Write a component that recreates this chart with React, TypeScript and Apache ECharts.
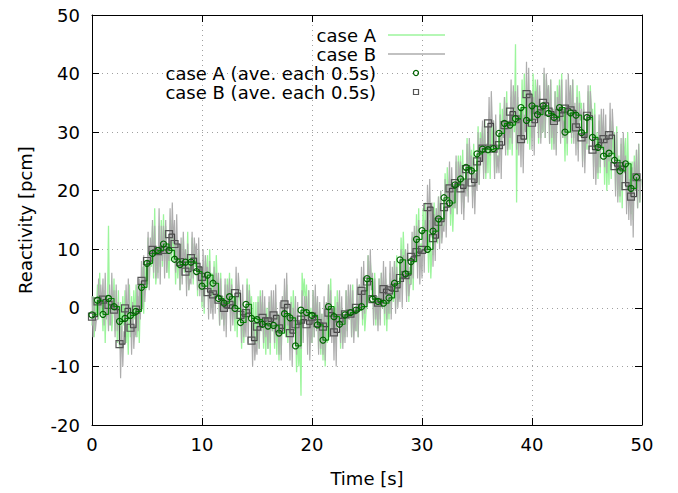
import React, { useEffect, useRef } from "react";
import * as echarts from "echarts";

const TIME_STEP_RAW = 0.1;
const TIME_STEP_AVE = 0.5;

const caseA = [
  -3, 2, -5, 1, -1, 4, -2, 6, -1, 0, -4, 3, -6, 2, -1, 14, -3, 2, -4, -1, 5, -4, 3, -6, 3,
  -7, 1, -5, 2, -3, 3, -6, -2, -8, 4, -5, 2, -4, 3, -2, 4, -5, 2, -6, 2, 1, 7, -1, 8, 3,
  5, 12, 4, 10, 7, 14, 5, 17, 4, 7, 6, 14, 7, 15, 7, 16, 8, 14, 6, 11, 5, 13, 8, 15, 8,
  12, 4, 11, 5, 10, 3, 11, 5, 12, 6, 10, 4, 13, 3, 9, 5, 12, 4, 11, 7, 9, 2, 10, 3, 7,
  0, 7, -1, 8, 4, 9, 1, 10, 2, 6, 0, 8, 1, 9, 3, 5, -3, 6, -2, 2, -3, 4, -2, 5, 0,
  6, -2, 5, -1, 2, -4, 3, -5, 4, 2, 1, -7, 0, -6, -1, -3, 5, -2, 4, -1, 2, -6, 1, -7, 1,
  -6, 2, -7, 3, -2, 1, -7, 0, -8, 0, -7, 1, -8, 2, -4, 0, -7, 1, -8, -1, -9, -1, -8, 0, -4,
  3, -5, 4, -6, -1, -6, 2, -5, 3, -2, -3, -11, -4, -10, -5, -15, 6, 2, 5, 0, 4, -5, 3, -6, 0,
  -6, 3, -5, 2, -1, 1, -7, 0, -8, -1, -9, -2, -10, -1, -6, 4, -4, 5, -3, -1, -5, 2, -6, 3, -2,
  1, -7, 0, -6, -2, -5, 3, -4, 2, -2, 3, -5, 4, -4, -2, -4, 3, -5, 4, 0, 4, -3, 5, -4, -1,
  2, 9, 1, 8, 5, 5, -2, 6, -3, 2, -3, 5, -2, 6, 0, 4, -3, 5, -4, 2, -2, 6, -1, 5, 1,
  8, 0, 9, 1, 3, 4, 12, 5, 13, 7, 10, 2, 9, 1, 7, 4, 12, 3, 13, 8, 16, 8, 17, 7, 11,
  9, 17, 10, 18, 12, 14, 6, 15, 5, 10, 9, 18, 11, 17, 11, 19, 11, 20, 12, 14, 14, 23, 15, 24, 18,
  22, 14, 21, 13, 19, 17, 25, 16, 26, 21, 26, 18, 27, 17, 22, 20, 29, 19, 28, 24, 27, 19, 28, 20, 23,
  22, 31, 21, 30, 28, 31, 23, 32, 22, 28, 23, 31, 22, 32, 27, 32, 23, 31, 24, 26, 25, 35, 26, 34, 29,
  36, 27, 37, 26, 31, 27, 36, 26, 37, 30, 45, 18, 36, 29, 34, 30, 39, 29, 40, 33, 37, 28, 36, 27, 32,
  29, 40, 30, 39, 35, 38, 28, 37, 29, 33, 30, 40, 29, 39, 35, 38, 28, 39, 27, 34, 28, 37, 27, 38, 32,
  39, 30, 40, 29, 33, 25, 35, 26, 34, 30, 38, 28, 39, 29, 33, 28, 38, 27, 37, 34, 35, 25, 34, 26, 30,
  27, 37, 28, 38, 32, 34, 24, 35, 23, 30, 22, 32, 23, 33, 27, 31, 21, 30, 20, 27, 21, 31, 22, 32, 26,
  30, 20, 31, 19, 26, 18, 28, 17, 29, 25, 29, 19, 30, 20, 25, 16, 25, 15, 26, 20, 27, 17, 28, 18, 22,
];

const caseB = [
  2, -5, 1, -4, -2, -2, 5, -1, 4, 0, 5, -3, 6, -2, 1, -4, 4, -3, 6, -1, 3, -5, 4, -4, 1,
  -2, -12, -3, -10, -4, -5, 4, -4, 5, 0, 0, -8, 1, -7, -3, -5, 4, -4, 5, -2, 8, 0, 9, 1, 5,
  4, 13, 3, 12, 8, 15, 6, 14, 5, 10, 5, 17, 4, 14, 8, 14, 5, 15, 6, 10, 8, 17, 9, 18, 11,
  15, 6, 16, 7, 11, 3, 12, 4, 13, 7, 10, 2, 11, 3, 5, 4, 13, 5, 12, 9, 11, 3, 12, 2, 7,
  1, 10, 0, 9, 6, 7, -2, 8, -1, 2, -2, 7, -1, 6, 2, 6, -3, 5, -2, 1, -4, 5, -5, 4, 0,
  5, -4, 4, -3, 1, -2, 7, -1, 6, 3, 3, -6, 4, -5, -2, -5, 4, -6, 3, -1, -1, -10, -2, -9, -6,
  -8, 1, -7, 2, -4, 3, -6, 2, -5, -2, -7, 2, -6, 3, -4, 3, -6, 4, -5, -2, -8, 1, -9, 2, -4,
  5, -4, 6, -3, -1, -9, 1, -10, 0, -4, 2, -8, 1, -7, -2, -7, 3, -6, 2, -2, 2, -8, 3, -9, -2,
  -6, 3, -5, 4, -4, 2, -8, 1, -7, -1, -8, 2, -9, 1, -2, 4, -5, 3, -6, 0, -9, 0, -10, 1, -3,
  3, -6, 2, -7, -1, -6, 3, -5, 4, -2, 4, -5, 3, -6, -1, -4, 5, -5, 4, 0, 7, -2, 8, -1, 3,
  0, 9, 1, 10, 3, 6, -3, 5, -2, 2, -4, 5, -3, 6, 0, 8, -1, 7, -2, 4, -1, 8, -2, 7, 3,
  8, -1, 7, 0, 3, 1, 10, 0, 9, 5, 10, 1, 11, 2, 4, 4, 13, 5, 14, 8, 14, 5, 15, 4, 10,
  5, 14, 6, 15, 10, 21, 13, 22, 12, 18, 7, 16, 8, 17, 12, 19, 10, 20, 11, 14, 13, 22, 12, 21, 18,
  25, 16, 24, 17, 20, 17, 26, 16, 25, 22, 25, 16, 24, 15, 22, 19, 28, 18, 29, 24, 26, 17, 25, 16, 23,
  20, 30, 21, 29, 25, 32, 22, 31, 23, 28, 27, 36, 26, 37, 31, 32, 22, 33, 23, 26, 23, 33, 22, 32, 29,
  36, 26, 35, 27, 32, 29, 39, 28, 38, 34, 37, 27, 38, 26, 33, 24, 34, 23, 33, 30, 42, 31, 41, 32, 37,
  27, 36, 26, 37, 32, 39, 29, 38, 28, 35, 30, 41, 29, 40, 35, 38, 28, 39, 29, 34, 27, 37, 26, 36, 33,
  38, 28, 39, 29, 32, 29, 39, 28, 40, 34, 38, 29, 39, 28, 35, 26, 36, 25, 35, 32, 34, 24, 35, 23, 30,
  28, 38, 27, 37, 34, 32, 22, 33, 21, 27, 23, 33, 24, 34, 27, 34, 24, 33, 23, 30, 25, 35, 24, 34, 30,
  29, 19, 30, 18, 25, 19, 29, 20, 30, 23, 26, 16, 25, 15, 22, 14, 24, 12, 25, 20, 27, 17, 28, 18, 22,
];

const caseAAve = [
  -1.2, 1.3, -1.1, 1.6, 0.2, -2.3, -1.8, -1.3, -0.6, 3.5,
  7.6, 9.3, 9.8, 10.9, 9.8, 8.3, 7.4, 7.8, 7.8, 6.2,
  3.7, 5.6, 4.2, 1.6, 0.8, 1.9, -0.1, -2.5, 0.6, -1.8,
  -2.0, -2.8, -3.1, -3.0, -4.3, -1.0, -1.7, -6.5, -0.4, -0.8,
  -1.3, -2.9, -5.5, 0.2, -1.5, -2.8, -1.2, -0.8, -0.4, 0.2,
  5.0, 1.5, 1.1, 0.8, 1.7, 4.2, 8.2, 5.8, 7.9, 11.7,
  13.2, 10.0, 13.1, 15.2, 18.8, 17.9, 21.0, 22.0, 24.0, 23.4,
  26.3, 27.1, 27.0, 27.2, 29.8, 31.5, 31.2, 32.3, 34.2, 32.0,
  34.5, 33.0, 34.5, 33.2, 32.5, 34.2, 30.0, 33.3, 32.9, 29.9,
  32.5, 29.1, 27.4, 25.9, 26.4, 25.2, 23.4, 24.6, 20.4, 22.3,
];

const caseBAve = [
  -1.5, 1.1, 1.4, 0.5, -0.3, -6.2, -0.1, -3.4, -0.3, 4.6,
  8.0, 9.9, 9.7, 9.9, 12.6, 10.9, 7.8, 6.2, 8.5, 7.0,
  5.3, 2.7, 2.3, 1.4, 0.0, 0.5, 2.5, -1.2, -0.9, -5.6,
  -3.2, -1.7, -2.3, -1.3, -3.5, 0.6, -4.3, -2.8, -2.0, -2.8,
  -1.5, -2.6, -3.2, -0.8, -4.2, -1.8, -1.1, -1.0, 0.0, 2.9,
  4.5, 1.5, 0.9, 3.2, 3.0, 3.4, 5.1, 5.6, 8.7, 9.5,
  9.9, 17.2, 11.9, 14.7, 17.2, 20.4, 21.3, 20.4, 23.7, 21.4,
  25.0, 27.2, 31.5, 27.2, 27.8, 31.2, 33.5, 32.2, 28.8, 36.5,
  31.6, 33.8, 35.0, 33.5, 31.9, 33.3, 34.0, 33.7, 30.8, 29.1,
  32.8, 27.0, 28.2, 28.8, 29.5, 24.2, 24.2, 20.8, 19.0, 22.3,
];

const xTicks = [0, 10, 20, 30, 40, 50];
const yTicks = [-20, -10, 0, 10, 20, 30, 40, 50];

const legendNames = ["case A", "case B", "case A (ave. each 0.5s)", "case B (ave. each 0.5s)"];

const FONT = "DejaVu Sans";
const FS = 18;

export default function App() {
  const ref = useRef<HTMLDivElement>(null);
  useEffect(() => {
    if (!ref.current) return;
    const chart = echarts.init(ref.current, null, { renderer: "svg" });
    const pairs = (arr: number[], step: number) => arr.map((v, i) => [+(i * step).toFixed(2), v]);
    const left = 92, right = 36, top = 15, bottom = 68;
    const xCommon = { min: xTicks[0], max: xTicks[xTicks.length - 1], interval: xTicks[1] - xTicks[0] };
    const yCommon = { min: yTicks[0], max: yTicks[yTicks.length - 1], interval: yTicks[1] - yTicks[0] };
    const lineBlack = { show: true, lineStyle: { color: "#000", width: 1 } };
    const tickIn = { show: true, inside: true, length: 7, lineStyle: { color: "#000", width: 1 } };
    const legendX = 376;
    const rowY = [35, 54, 73, 92];
    const gridLine = { show: true, lineStyle: { color: "#a0a0a0", type: [1, 4], width: 1 } };
    const greenRaw = "#9cf59c";
    const grayRaw = "#adadad";
    chart.setOption({
      animation: false,
      backgroundColor: "#fff",
      grid: { left, right, top, bottom },
      xAxis: [
        {
          type: "value",
          ...xCommon,
          position: "bottom",
          axisLine: { ...lineBlack, onZero: false },
          axisTick: tickIn,
          axisLabel: { color: "#000", fontFamily: FONT, fontSize: FS, margin: 10 },
          splitLine: gridLine,
          name: "Time [s]",
          nameLocation: "middle",
          nameGap: 44,
          nameTextStyle: { color: "#000", fontFamily: FONT, fontSize: FS },
        },
        {
          type: "value",
          ...xCommon,
          position: "top",
          axisLine: { ...lineBlack, onZero: false },
          axisTick: tickIn,
          axisLabel: { show: false },
          splitLine: { show: false },
        },
      ],
      yAxis: [
        {
          type: "value",
          ...yCommon,
          position: "left",
          axisLine: { ...lineBlack, onZero: false },
          axisTick: tickIn,
          axisLabel: { color: "#000", fontFamily: FONT, fontSize: FS, margin: 12 },
          splitLine: gridLine,
          name: "Reactivity [pcm]",
          nameLocation: "middle",
          nameGap: 58,
          nameTextStyle: { color: "#000", fontFamily: FONT, fontSize: FS },
        },
        {
          type: "value",
          ...yCommon,
          position: "right",
          axisLine: { ...lineBlack, onZero: false },
          axisTick: tickIn,
          axisLabel: { show: false },
          splitLine: { show: false },
        },
      ],
      series: [
        {
          name: legendNames[0],
          type: "line",
          data: pairs(caseA, TIME_STEP_RAW),
          showSymbol: false,
          lineStyle: { color: greenRaw, width: 1.3 },
          itemStyle: { color: greenRaw },
          z: 1,
        },
        {
          name: legendNames[1],
          type: "line",
          data: pairs(caseB, TIME_STEP_RAW),
          showSymbol: false,
          lineStyle: { color: grayRaw, width: 1.2 },
          itemStyle: { color: grayRaw },
          z: 2,
        },
        {
          name: legendNames[2],
          type: "line",
          step: "end",
          data: pairs(caseAAve, TIME_STEP_AVE),
          symbol: "circle",
          symbolSize: 6,
          lineStyle: { color: "#0a8a0a", width: 1.2 },
          itemStyle: { color: "rgba(0,0,0,0)", borderColor: "#006400", borderWidth: 1.2 },
          z: 4,
        },
        {
          name: legendNames[3],
          type: "line",
          step: "end",
          data: pairs(caseBAve, TIME_STEP_AVE),
          symbol: "rect",
          symbolSize: 7,
          lineStyle: { color: "#444444", width: 1.2 },
          itemStyle: { color: "rgba(0,0,0,0)", borderColor: "#555555", borderWidth: 1.2 },
          z: 3,
        },
      ],
      graphic: [
        ...legendNames.map((n, i) => ({
          type: "text",
          x: legendX,
          y: rowY[i],
          style: {
            text: n,
            fill: "#000",
            font: `${FS}px "${FONT}"`,
            align: "right",
            verticalAlign: "middle",
          },
          z: 10,
        })),
        { type: "line", shape: { x1: 388, y1: rowY[0], x2: 445, y2: rowY[0] }, style: { stroke: greenRaw, lineWidth: 1.5 }, z: 10 },
        { type: "line", shape: { x1: 388, y1: rowY[1], x2: 445, y2: rowY[1] }, style: { stroke: grayRaw, lineWidth: 1.5 }, z: 10 },
        { type: "circle", shape: { cx: 416, cy: rowY[2], r: 2.5 }, style: { fill: "none", stroke: "#006400", lineWidth: 1.2 }, z: 10 },
        { type: "rect", shape: { x: 413.5, y: rowY[3] - 2.5, width: 5, height: 5 }, style: { fill: "none", stroke: "#555555", lineWidth: 1.2 }, z: 10 },
      ],
    });
    return () => chart.dispose();
  }, []);
  return <div ref={ref} style={{ width: 678, height: 493, position: "absolute", left: 0, top: 0 }} />;
}
